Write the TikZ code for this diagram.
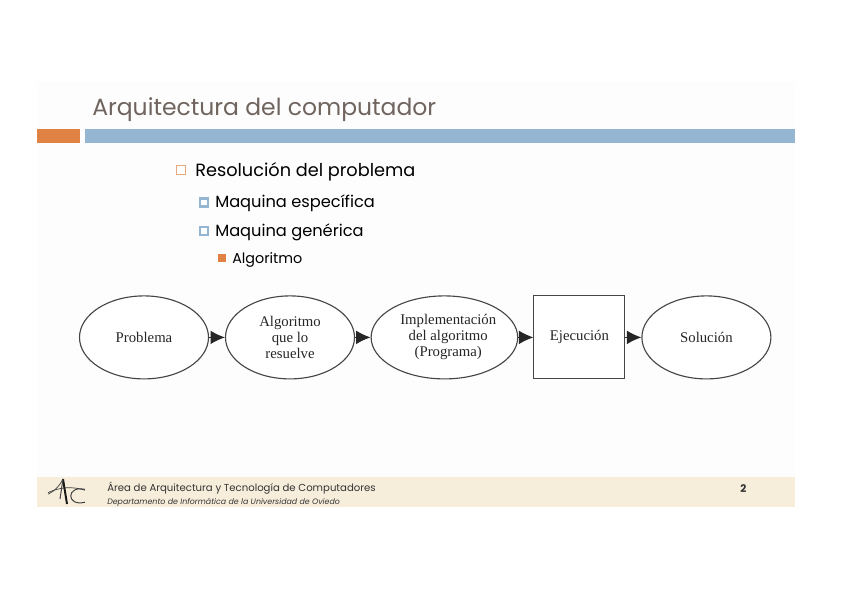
\documentclass[tikz,border=0pt]{standalone}
\usepackage{fontspec}
\setmainfont{Liberation Serif}
\newfontfamily\gothic{Poppins}
\usetikzlibrary{shapes.geometric, arrows.meta, positioning, calc}
\definecolor{tituloc}{RGB}{112,100,94}
\definecolor{naranja}{RGB}{223,130,68}
\definecolor{azul}{RGB}{148,182,210}
\definecolor{crema}{RGB}{247,237,219}
\definecolor{trazo}{RGB}{70,70,70}
\tikzset{
  estado/.style={ellipse, draw=trazo, line width=0.8pt, fill=white, minimum height=2.075cm, inner sep=0pt, align=center, text=black!85, font=\fontsize{10.5}{11.4}\selectfont},
  proceso/.style={rectangle, draw=trazo, line width=0.8pt, fill=white, minimum width=2.275cm, minimum height=2.075cm, inner sep=0pt, text=black!85, font=\fontsize{10.5}{11.4}\selectfont},
  flecha/.style={line width=0.7pt, color=black!85, -{Latex[length=0.36cm,width=0.34cm]}},
  vineta/.style={rectangle, inner sep=0pt, minimum size=#1},
  renglon/.style={anchor=base west, inner sep=0pt, text=black, font=\gothic}
}
\begin{document}
\begin{tikzpicture}
  \useasboundingbox (0,0) rectangle (21.2,14.975);
  % Fondo de la diapositiva
  \fill [black!0.6] (0.925,2.3) rectangle (19.875,12.925);
  \node (pie) [rectangle, fill=crema, draw=none, inner sep=0pt, minimum width=18.95cm, minimum height=0.75cm] at (10.4,2.675) {};
  \node (barran) [rectangle, fill=naranja, inner sep=0pt, minimum width=1.075cm, minimum height=0.35cm] at (1.4625,11.575) {};
  \node (barraz) [rectangle, fill=azul, inner sep=0pt, minimum width=17.75cm, minimum height=0.35cm] at (11,11.575) {};
  % Titulo y lista
  \node (titulo) [renglon, text=tituloc, font=\gothic\fontsize{16.7}{19}\selectfont] at (2.3,12.08) {Arquitectura del computador};
  \node (vin1) [vineta=0.22cm, draw=naranja!70, line width=0.7pt, fill=white] at (4.525,10.72) {};
  \node (res) [renglon, font=\gothic\fontsize{12.6}{15}\selectfont] at (4.875,10.55) {Resolución del problema};
  \node (vin2) [vineta=0.2cm, draw=azul, line width=2pt, fill=white] at (5.1,9.92) {};
  \node (esp) [renglon, font=\gothic\fontsize{11.55}{14}\selectfont] at (5.375,9.78) {Maquina específica};
  \node (vin3) [vineta=0.2cm, draw=azul, line width=2pt, fill=white] at (5.1,9.2) {};
  \node (gen) [renglon, font=\gothic\fontsize{11.55}{14}\selectfont] at (5.375,9.05) {Maquina genérica};
  \node (vin4) [vineta=0.2cm, fill=naranja] at (5.55,8.52) {};
  \node (alg) [renglon, font=\gothic\fontsize{10.2}{12}\selectfont] at (5.8,8.4) {Algoritmo};
  % Diagrama
  \node (problema) [estado, minimum width=3.225cm] at (3.6,6.54) {Problema};
  \node (algoritmo) [estado, minimum width=3.225cm] at (7.25,6.54) {Algoritmo\\que lo\\resuelve};
  \node (programa) [estado, minimum width=3.625cm] at (11.11,6.54) {\hspace*{5.5pt}Implementación\\\hspace*{5.5pt}del algoritmo\\\hspace*{5.5pt}(Programa)};
  \node (ejecucion) [proceso] at (14.485,6.54) {\raisebox{2pt}{Ejecución}};
  \node (solucion) [estado, minimum width=3.225cm] at (17.66,6.54) {Solución};
  \draw [flecha] (problema) -- (algoritmo);
  \draw [flecha] (algoritmo) -- (programa);
  \draw [flecha] (programa) -- (ejecucion);
  \draw [flecha] (ejecucion) -- (solucion);
  % Pie
  \draw [black!75, line width=0.5pt] (1.2,2.62) .. controls (1.4,2.72) and (1.5,2.85) .. (1.575,3.0);
  \draw [black!75, line width=0.5pt] (1.2,2.66) .. controls (1.5,2.8) and (1.8,2.82) .. (2.125,2.72);
  \draw [black!90, line width=1.4pt] (1.575,3.0) -- (1.675,2.375);
  \draw [black!75, line width=0.7pt] (1.575,3.0) -- (1.5,2.5);
  \draw [black!75, line width=0.7pt] (2.125,2.74) .. controls (1.65,2.85) and (1.65,2.3) .. (2.125,2.42);
  \node (area) [renglon, text=black!80, font=\gothic\fontsize{7.2}{8}\selectfont] at (2.675,2.68) {Área de Arquitectura y Tecnología de Computadores};
  \node (depto) [renglon, text=black!80, font=\gothic\itshape\fontsize{5.6}{6}\selectfont] at (2.675,2.375) {Departamento de Informática de la Universidad de Oviedo};
  \node (pag) [renglon, text=black!80, font=\gothic\bfseries\fontsize{7.5}{8}\selectfont] at (18.5,2.66) {2};
\end{tikzpicture}
\end{document}
